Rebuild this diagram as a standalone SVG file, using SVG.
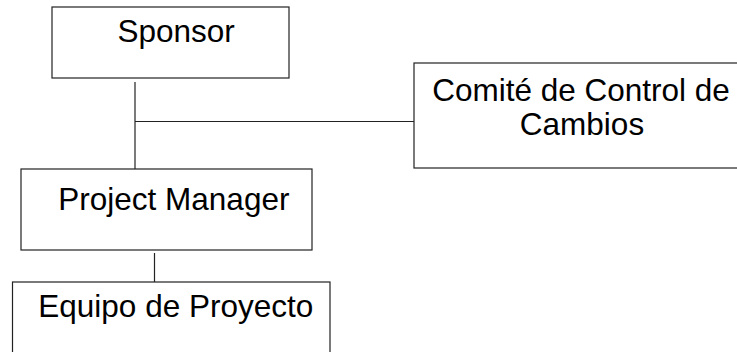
<svg xmlns="http://www.w3.org/2000/svg" width="737" height="352" viewBox="0 0 737 352">
  <style>
    .box { fill: #fff; stroke: #222; stroke-width: 1.2; }
    .conn { stroke: #222; stroke-width: 1.2; fill: none; }
    .lbl { font-family: "Liberation Sans", Arial, sans-serif; font-size: 31.5px; fill: #000; }
  </style>
  <rect width="737" height="352" fill="#fff"/>
  <g id="connectors">
    <line class="conn" x1="135" y1="82" x2="135" y2="169"/>
    <line class="conn" x1="135" y1="121.5" x2="415" y2="121.5"/>
    <line class="conn" x1="154.5" y1="253" x2="154.5" y2="294"/>
  </g>
  <g id="sponsor">
    <rect class="box" x="52" y="7" width="237" height="71"/>
    <text class="lbl" x="117.5" y="41.5">Sponsor</text>
  </g>
  <g id="comite">
    <rect class="box" x="414" y="63" width="340" height="105"/>
    <text class="lbl" text-anchor="middle"><tspan x="581" y="101">Comité de Control de</tspan><tspan x="582" y="134.5">Cambios</tspan></text>
  </g>
  <g id="project-manager">
    <rect class="box" x="21" y="169" width="291" height="81"/>
    <text class="lbl" x="58.3" y="209.5">Project Manager</text>
  </g>
  <g id="equipo">
    <rect class="box" x="12.5" y="282" width="317.5" height="80"/>
    <text class="lbl" x="38.3" y="317">Equipo de Proyecto</text>
  </g>
</svg>
